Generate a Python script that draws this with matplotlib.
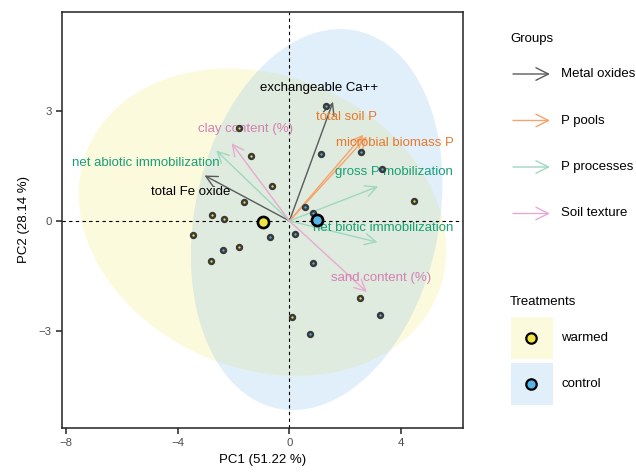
import numpy as np
import matplotlib
matplotlib.use("Agg")
import matplotlib.pyplot as plt
from matplotlib.patches import Rectangle

plt.rcParams['font.family'] = ['Liberation Sans', 'DejaVu Sans']

# individual scores (PC1, PC2)
warmed_pc1 = [-1.79, -1.39, -0.62, 4.45, -1.64, -2.79, -2.36, -3.45, -1.82, -2.80, 2.54, 0.09]
warmed_pc2 = [2.54, 1.77, 0.95, 0.53, 0.52, 0.17, 0.04, -0.39, -0.70, -1.09, -2.11, -2.63]
control_pc1 = [1.31, 1.12, 2.57, 3.30, 0.55, 0.86, -0.69, 0.20, -2.37, 0.86, 3.23, 0.75]
control_pc2 = [3.14, 1.83, 1.88, 1.41, 0.37, 0.21, -0.44, -0.36, -0.78, -1.15, -2.57, -3.09]

# variable loadings (scaled) and label positions
var_names = ["exchangeable Ca++", "total Fe oxide", "total soil P", "microbial biomass P",
             "gross P mobilization", "net biotic immobilization", "net abiotic immobilization",
             "clay content (%)", "sand content (%)"]
var_groups = ["Metal oxides", "Metal oxides", "P pools", "P pools",
              "P processes", "P processes", "P processes",
              "Soil texture", "Soil texture"]
var_pc1 = [1.56, -3.04, 2.64, 2.77, 3.17, 3.15, -2.62, -2.07, 2.77]
var_pc2 = [3.25, 1.24, 2.35, 2.30, 0.94, -0.58, 1.92, 2.12, -1.94]
lab_pc1 = [1.06, -3.54, 2.04, 3.77, 3.74, 3.37, -5.15, -1.59, 3.27]
lab_pc2 = [3.63, 0.80, 2.84, 2.12, 1.33, -0.20, 1.59, 2.51, -1.56]

groups = ["Metal oxides", "P pools", "P processes", "Soil texture"]
arrow_cols = {"Metal oxides": "#5a5a5a", "P pools": "#f4a46c",
              "P processes": "#9fd8bd", "Soil texture": "#e8a9d2"}
label_cols = {"Metal oxides": "black", "P pools": "#e8782c",
              "P processes": "#1b9e77", "Soil texture": "#d47fb4"}

treatments = ["warmed", "control"]
treat_cols = {"warmed": "#f0e442", "control": "#56b4e9"}
fill_cols = {"warmed": "#f0e442", "control": "#5da8e8"}


def ellipse(x, y, level=0.95, n=200):
    x = np.asarray(x); y = np.asarray(y)
    d2 = len(x) - 1
    # F(2, d2) quantile in closed form
    f = d2 / 2 * ((1 - level) ** (-2 / d2) - 1)
    r = np.sqrt(2 * f)
    chol = np.linalg.cholesky(np.cov(x, y))
    t = np.linspace(0, 2 * np.pi, n)
    pts = chol @ np.vstack([np.cos(t), np.sin(t)]) * r
    return pts[0] + x.mean(), pts[1] + y.mean()


fig = plt.figure(figsize=(6.36, 4.74), dpi=100)
ax = fig.add_axes([62 / 636, 1 - 428 / 474, 401 / 636, 416 / 474])

data = {"warmed": (warmed_pc1, warmed_pc2), "control": (control_pc1, control_pc2)}

for tr in treatments:
    ex, ey = ellipse(*data[tr])
    ax.fill(ex, ey, color=fill_cols[tr], alpha=0.18, lw=0, zorder=1)

ax.axhline(0, color="black", lw=0.8, ls=(0, (3, 3)), zorder=2)
ax.axvline(0, color="black", lw=0.8, ls=(0, (3, 3)), zorder=2)

for name, g, vx, vy, lx, ly in zip(var_names, var_groups, var_pc1, var_pc2, lab_pc1, lab_pc2):
    ax.annotate("", xy=(vx, vy), xytext=(0, 0),
                arrowprops=dict(arrowstyle="->,head_length=0.8,head_width=0.4",
                                color=arrow_cols[g], lw=1, shrinkA=0, shrinkB=0),
                zorder=3)
    ax.text(lx, ly, name, color=label_cols[g], fontsize=9.5, ha="center", va="center", zorder=4)

for tr in treatments:
    px, py = data[tr]
    ax.plot(px, py, "o", ms=3.5, mfc=treat_cols[tr], mec="#3a3a3a", mew=1.8, ls="none", zorder=5)
for tr in treatments:
    px, py = data[tr]
    ax.plot(np.mean(px), np.mean(py), "o", ms=8, mfc=treat_cols[tr], mec="black", mew=1.9, zorder=6)

ax.set_xlim(-8.14, 6.21)
ax.set_ylim(-5.65, 5.7)
ax.set_xticks([-8, -4, 0, 4])
ax.set_yticks([-3, 0, 3])
ax.set_xticklabels(["\u22128", "\u22124", "0", "4"])
ax.set_yticklabels(["\u22123", "0", "3"])
ax.tick_params(direction="out", length=4, width=1.2, labelsize=8.2, labelcolor="#4d4d4d", color="#333333")
for s in ax.spines.values():
    s.set_linewidth(1.1)
    s.set_color("#222222")
ax.set_xlabel("PC1 (51.22 %)", fontsize=9.5, labelpad=4)
ax.set_ylabel("PC2 (28.14 %)", fontsize=9.5, labelpad=6)

# legends drawn in image pixel coordinates
lax = fig.add_axes([0, 0, 1, 1])
lax.set_xlim(0, 636)
lax.set_ylim(474, 0)
lax.axis("off")

lax.text(510, 39, "Groups", fontsize=9.5, va="center", ha="left")
for i, g in enumerate(groups):
    yy = 74 + i * 46.5
    lax.annotate("", xy=(550, yy), xytext=(513, yy),
                 arrowprops=dict(arrowstyle="->,head_length=0.9,head_width=0.45",
                                 color=arrow_cols[g], lw=1, shrinkA=0, shrinkB=0))
    lax.text(561, yy, g, fontsize=9.5, va="center", ha="left")

lax.text(510, 302, "Treatments", fontsize=9.5, va="center", ha="left")
for i, tr in enumerate(treatments):
    y0 = 317 + i * 46
    lax.add_patch(Rectangle((511, y0), 42, 42, facecolor=fill_cols[tr], alpha=0.18, lw=0))
    lax.plot(531, y0 + 21, "o", ms=7.5, mfc=treat_cols[tr], mec="black", mew=1.6)
    lax.text(561, y0 + 21, tr, fontsize=9.5, va="center", ha="left")

fig.savefig("out.png", dpi=100)
